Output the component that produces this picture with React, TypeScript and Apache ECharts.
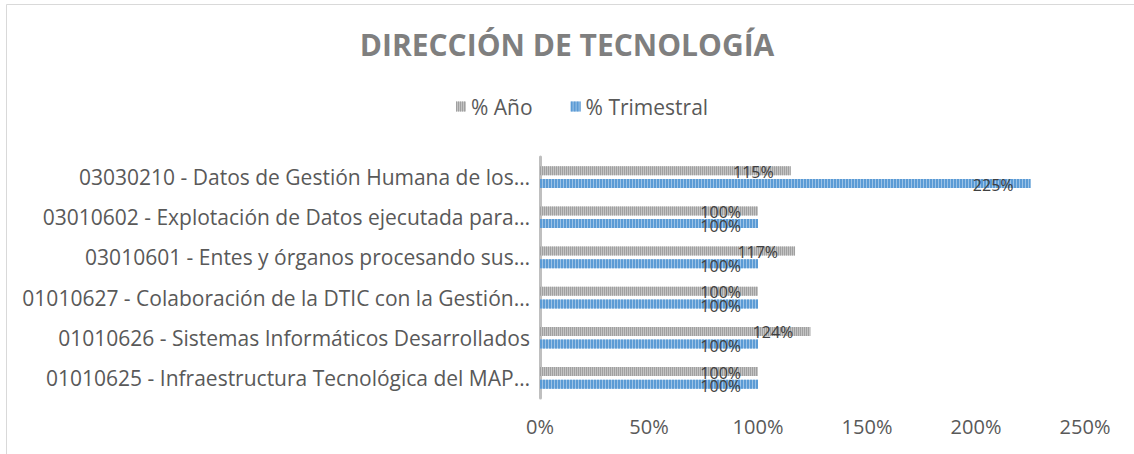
import React, { useEffect, useRef } from "react";
import * as echarts from "echarts";

const titleText = "DIRECCIÓN DE TECNOLOGÍA";
const categories = [
  "03030210 - Datos de Gestión Humana de los…",
  "03010602 - Explotación de Datos ejecutada para…",
  "03010601 - Entes y órganos procesando sus…",
  "01010627 - Colaboración de la DTIC con la Gestión…",
  "01010626 - Sistemas Informáticos Desarrollados",
  "01010625 - Infraestructura Tecnológica del MAP…",
];
const seriesNames = ["% Año", "% Trimestral"];
const anoValues = [115, 100, 117, 100, 124, 100];
const trimestralValues = [225, 100, 100, 100, 100, 100];
const xMin = 0;
const xMax = 250;
const xInterval = 50;

const FONT = "'Open Sans', 'Noto Sans', sans-serif";

export default function App() {
  const ref = useRef<HTMLDivElement>(null);
  useEffect(() => {
    if (!ref.current) return;
    const chart = echarts.init(ref.current, null, { renderer: "svg" });
    const labelCfg = (dy: number) => ({
      show: true,
      position: "insideRight",
      distance: 17,
      offset: [0, dy],
      formatter: (p: any) => `${p.value}%`,
      color: "#404040",
      fontSize: 16,
      fontFamily: FONT,
    });
    chart.setOption({
      animation: false,
      backgroundColor: "#ffffff",
      title: {
        text: titleText,
        left: "center",
        top: 24,
        textStyle: {
          color: "#7f7f7f",
          fontSize: 30,
          fontWeight: "bold",
          fontFamily: FONT,
        },
      },
      legend: {
        top: 91,
        left: 451,
        itemWidth: 10,
        itemHeight: 10,
        itemGap: 38,
        icon: "rect",
        textStyle: { color: "#595959", fontSize: 21, fontFamily: FONT },
        data: seriesNames,
      },
      grid: { left: 540, right: 49, top: 157, bottom: 56, containLabel: false },
      xAxis: {
        type: "value",
        min: xMin,
        max: xMax,
        interval: xInterval,
        axisLine: { show: false },
        axisTick: { show: false },
        splitLine: { show: false },
        axisLabel: {
          formatter: "{value}%",
          color: "#595959",
          fontSize: 20,
          fontFamily: FONT,
          margin: 18,
        },
      },
      yAxis: {
        type: "category",
        inverse: true,
        data: categories,
        axisLine: { show: true, lineStyle: { color: "#bfbfbf", width: 3 } },
        axisTick: { show: false },
        axisLabel: { color: "#595959", fontSize: 21, fontFamily: FONT, margin: 10 },
      },
      graphic: [
        { type: "line", shape: { x1: 6.5, y1: 4.5, x2: 1134, y2: 4.5 }, style: { stroke: "#d9d9d9", lineWidth: 1 } },
        { type: "line", shape: { x1: 6.5, y1: 4.5, x2: 6.5, y2: 454 }, style: { stroke: "#d9d9d9", lineWidth: 1 } },
      ],
      series: [
        {
          name: seriesNames[0],
          type: "bar",
          data: anoValues,
          barWidth: 9,
          barGap: "40%",
          itemStyle: {
            color: "#c4c4c4",
            decal: {
              symbol: "rect",
              symbolSize: 1,
              dashArrayX: [1, 1],
              dashArrayY: [2, 0],
              color: "#a0a0a0",
            },
          },
          label: labelCfg(1),
        },
        {
          name: seriesNames[1],
          type: "bar",
          data: trimestralValues,
          barWidth: 9,
          barGap: "40%",
          itemStyle: {
            color: "#9dc3e6",
            decal: {
              symbol: "rect",
              symbolSize: 1,
              dashArrayX: [2, 1],
              dashArrayY: [2, 0],
              color: "#5b9bd5",
            },
          },
          label: labelCfg(2),
        },
      ],
    });
    return () => chart.dispose();
  }, []);
  return (
    <div
      ref={ref}
      style={{ position: "fixed", left: 0, top: 0, width: 1134, height: 454 }}
    />
  );
}
